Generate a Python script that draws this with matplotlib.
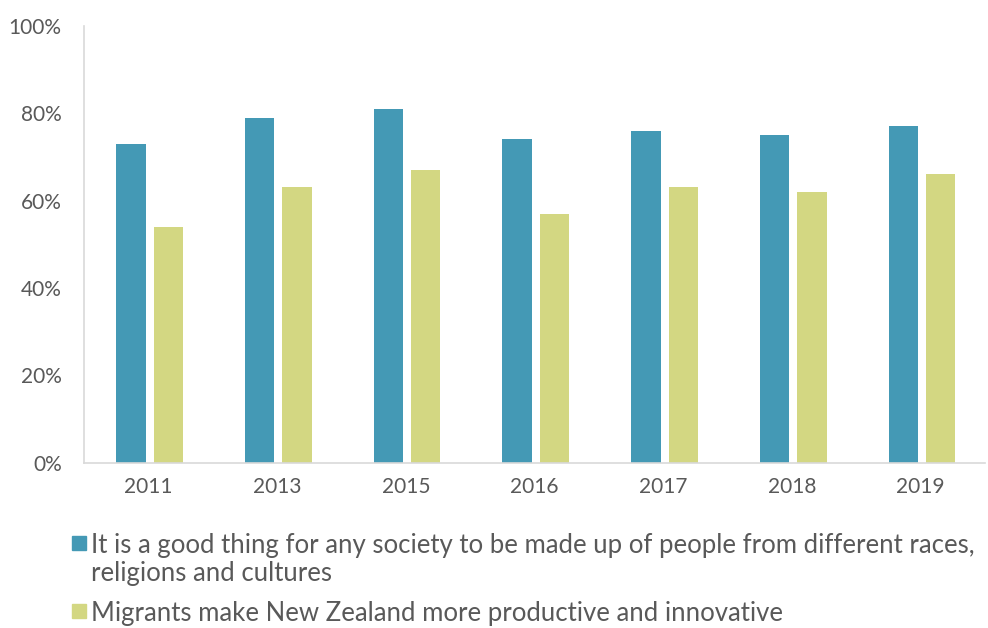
import matplotlib
matplotlib.use('Agg')
import matplotlib.pyplot as plt
from matplotlib.patches import Rectangle
import numpy as np

years = ['2011', '2013', '2015', '2016', '2017', '2018', '2019']
good_thing = [73, 79, 81, 74, 76, 75, 77]
productive = [54, 63, 67, 57, 63, 62, 66]
labels = ['It is a good thing for any society to be made up of people from different races,\nreligions and cultures',
          'Migrants make New Zealand more productive and innovative']
colors = ['#4499B5', '#D3D782']

plt.rcParams['font.family'] = ['Lato', 'DejaVu Sans']
text_color = '#595959'

fig = plt.figure(figsize=(9.88, 6.28), dpi=100)
ax = fig.add_axes([0.085, 0.263, 0.912, 0.696])

x = np.arange(len(years))
w = 0.228
ax.bar(x - 0.135, good_thing, w, color=colors[0])
ax.bar(x + 0.155, productive, w, color=colors[1])

ax.set_xlim(-0.5, len(years) - 0.5)
ax.set_ylim(0, 100)
ax.set_yticks(range(0, 101, 20))
ax.set_yticklabels([f'{v}%' for v in range(0, 101, 20)])
ax.set_xticks(x)
ax.set_xticklabels(years)
ax.tick_params(length=0, labelsize=15, colors=text_color)
ax.tick_params(axis='y', pad=16)
ax.tick_params(axis='x', pad=10)
for s in ['top', 'right']:
    ax.spines[s].set_visible(False)
for s in ['left', 'bottom']:
    ax.spines[s].set_color('#D9D9D9')
    ax.spines[s].set_linewidth(1.2)

# legend drawn by hand so the swatch sits on the first line of a wrapped label
H = 628.0
entry_y = [543, 611]
for lab, col, yp in zip(labels, colors, entry_y):
    fig.patches.append(Rectangle((72 / 988, 1 - (yp + 7) / H), 14 / 988, 14 / H,
                                 transform=fig.transFigure, color=col))
    for i, line in enumerate(lab.split('\n')):
        fig.text(91 / 988, 1 - (yp + i * 28) / H, line, fontsize=18.5,
                 color=text_color, va='center_baseline', ha='left')

fig.savefig('out.png', dpi=100)
